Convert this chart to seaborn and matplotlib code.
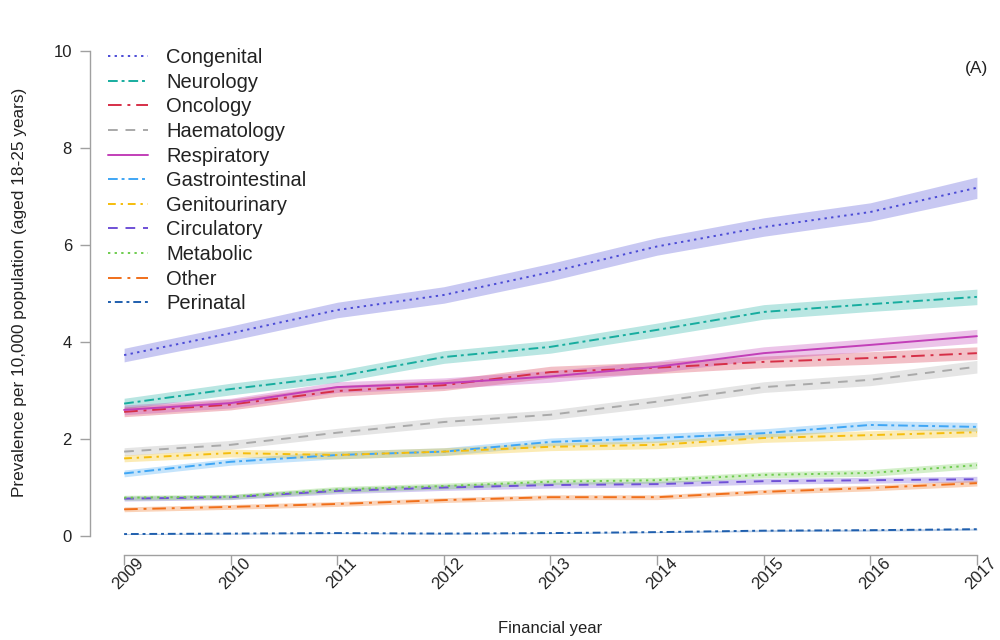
import matplotlib
matplotlib.use("Agg")
import matplotlib.pyplot as plt
import matplotlib.transforms as mtransforms
import seaborn as sns
import pandas as pd

years = [2009, 2010, 2011, 2012, 2013, 2014, 2015, 2016, 2017]

categories = ["Congenital", "Neurology", "Oncology", "Haematology", "Respiratory",
              "Gastrointestinal", "Genitourinary", "Circulatory", "Metabolic",
              "Other", "Perinatal"]

# prevalence per 10,000 (point estimate) and half-width of the 95% interval
congenital = [3.73, 4.18, 4.66, 4.97, 5.44, 5.97, 6.37, 6.68, 7.18]
congenital_ci = [0.14, 0.15, 0.16, 0.17, 0.18, 0.18, 0.19, 0.19, 0.22]
neurology = [2.73, 3.03, 3.29, 3.69, 3.90, 4.25, 4.62, 4.78, 4.93]
neurology_ci = [0.11, 0.12, 0.12, 0.13, 0.13, 0.14, 0.15, 0.15, 0.16]
oncology = [2.56, 2.71, 2.99, 3.11, 3.38, 3.47, 3.59, 3.67, 3.77]
oncology_ci = [0.10, 0.11, 0.11, 0.11, 0.12, 0.12, 0.12, 0.13, 0.13]
haematology = [1.74, 1.88, 2.13, 2.35, 2.50, 2.77, 3.07, 3.22, 3.49]
haematology_ci = [0.08, 0.09, 0.09, 0.10, 0.10, 0.11, 0.11, 0.12, 0.13]
respiratory = [2.60, 2.74, 3.07, 3.15, 3.29, 3.49, 3.77, 3.94, 4.12]
respiratory_ci = [0.10, 0.10, 0.11, 0.11, 0.12, 0.12, 0.13, 0.13, 0.14]
gastrointestinal = [1.29, 1.53, 1.67, 1.74, 1.94, 2.02, 2.12, 2.29, 2.25]
gastrointestinal_ci = [0.07, 0.07, 0.08, 0.08, 0.08, 0.09, 0.09, 0.09, 0.09]
genitourinary = [1.60, 1.71, 1.67, 1.74, 1.84, 1.88, 2.02, 2.08, 2.14]
genitourinary_ci = [0.07, 0.08, 0.08, 0.08, 0.08, 0.08, 0.09, 0.09, 0.09]
circulatory = [0.77, 0.80, 0.93, 1.00, 1.05, 1.07, 1.13, 1.15, 1.17]
circulatory_ci = [0.05, 0.05, 0.06, 0.06, 0.06, 0.06, 0.06, 0.06, 0.06]
metabolic = [0.79, 0.81, 0.96, 1.03, 1.12, 1.15, 1.26, 1.30, 1.46]
metabolic_ci = [0.05, 0.05, 0.06, 0.06, 0.06, 0.06, 0.06, 0.07, 0.07]
other = [0.55, 0.60, 0.66, 0.74, 0.80, 0.80, 0.91, 0.99, 1.09]
other_ci = [0.05, 0.05, 0.05, 0.05, 0.05, 0.05, 0.05, 0.06, 0.06]
perinatal = [0.04, 0.05, 0.06, 0.05, 0.06, 0.08, 0.11, 0.12, 0.14]
perinatal_ci = [0.01, 0.01, 0.01, 0.01, 0.01, 0.01, 0.02, 0.02, 0.02]

values = [congenital, neurology, oncology, haematology, respiratory,
          gastrointestinal, genitourinary, circulatory, metabolic, other, perinatal]
intervals = [congenital_ci, neurology_ci, oncology_ci, haematology_ci, respiratory_ci,
             gastrointestinal_ci, genitourinary_ci, circulatory_ci, metabolic_ci,
             other_ci, perinatal_ci]

colors = ["#4b4bd6", "#17ad9f", "#d62f47", "#a9a9a9", "#c23fb8", "#3fa6f5",
          "#f5bd0c", "#6f50d6", "#6fcc4f", "#f06f1a", "#1f5fae"]
styles = [(0, (1.2, 2.2)), (0, (5, 2, 1.5, 2)), (0, (7, 3, 1.5, 3)), (0, (5, 4)),
          "-", (0, (5, 2, 1.5, 2)), (0, (4, 2.5, 1.2, 2.5)), (0, (5, 4)),
          (0, (1.2, 2.2)), (0, (7, 3, 1.5, 3)), (0, (1.5, 2, 4, 2))]

sns.set_theme(style="white")
plt.rcParams["font.family"] = ["Liberation Sans", "DejaVu Sans"]

fig = plt.figure(figsize=(10, 6.4), dpi=100)
ax = fig.add_axes([0.090, (640 - 555.4) / 640, 0.921, (555.4 - 31.6) / 640])

for name, vals, ci, col, ls in zip(categories, values, intervals, colors, styles):
    df = pd.DataFrame({"year": years, "prev": vals})
    lo = [v - c for v, c in zip(vals, ci)]
    hi = [v + c for v, c in zip(vals, ci)]
    ax.fill_between(years, lo, hi, color=col, alpha=0.3, linewidth=0)
    sns.lineplot(data=df, x="year", y="prev", ax=ax, color=col, linestyle=ls,
                 linewidth=1.4, label=name, legend=False)

ax.set_xlim(2009 - 0.32, 2017 + 0.32)
ax.set_ylim(-0.4, 10.4)
ax.set_xticks(years)
ax.set_xticklabels([str(y) for y in years], rotation=45, ha="center", va="center",
                   rotation_mode="anchor")
ax.set_yticks([0, 2, 4, 6, 8, 10])

for side in ["top", "right"]:
    ax.spines[side].set_visible(False)
ax.spines["left"].set_bounds(0, 10)
ax.spines["bottom"].set_bounds(2009, 2017)
for side in ["left", "bottom"]:
    ax.spines[side].set_color("#a0a0a0")
    ax.spines[side].set_linewidth(1.0)

ax.tick_params(axis="both", which="major", direction="out", length=7, width=1.0,
               color="#a0a0a0", labelsize=12, labelcolor="#222222",
               left=True, bottom=True)
ax.tick_params(axis="y", pad=6)
ax.tick_params(axis="x", pad=6)

# nudge the slanted year labels slightly to the right of their ticks
shift = mtransforms.ScaledTranslation(4.5 / 100, 0, fig.dpi_scale_trans)
for lab in ax.get_xticklabels():
    lab.set_transform(lab.get_transform() + shift)

ax.set_xlabel("Financial year", fontsize=12, color="#222222", va="center")
ax.xaxis.set_label_coords(0.5, (555.4 - 628) / 523.8)
ax.set_ylabel("Prevalence per 10,000 population (aged 18-25 years)", fontsize=12.4,
              color="#222222", va="center")
ax.yaxis.set_label_coords((20 - 90) / 921, 0.5 - (292 - 293.5) / 523.8)

handles = ax.get_lines()
leg = ax.legend(handles=handles, labels=categories, loc="upper left",
                bbox_to_anchor=(0.108, 1 - 48 / 640), bbox_transform=fig.transFigure,
                frameon=False, fontsize=14.5, handlelength=2.0, handletextpad=0.9,
                labelspacing=0.28, borderpad=0, borderaxespad=0)
for t in leg.get_texts():
    t.set_color("#222222")

fig.text(0.977, 1 - 68 / 640, "(A)", fontsize=12.5, color="#222222",
         ha="center", va="center")

fig.savefig("out.png", dpi=100)
